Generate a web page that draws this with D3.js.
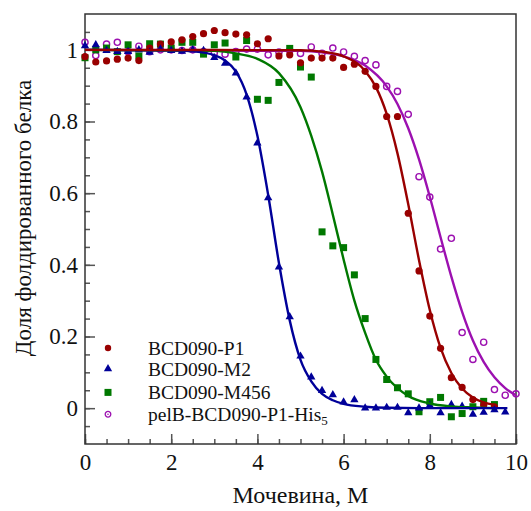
<!DOCTYPE html>
<html>
<head>
<meta charset="utf-8">
<script src="https://cdn.jsdelivr.net/npm/d3@7"></script>
<style>
  body { margin: 0; background: #fff; }
  svg { display: block; font-family: "Liberation Serif", "Times New Roman", serif; }
</style>
</head>
<body>
<svg id="chart"></svg>
<script>
// urea concentrations (M), shared by all measured series
var ureaX = [0,0.25,0.5,0.75,1,1.25,1.5,1.75,2,2.25,2.5,2.75,3,3.25,3.5,3.75,4,4.25,4.5,4.75,
  5,5.25,5.5,5.75,6,6.25,6.5,6.75,7,7.25,7.5,7.75,8,8.25,8.5,8.75,9,9.25,9.5,9.75,10];

var p1Vals = [0.981,0.966,0.969,0.974,0.977,0.97,1.005,1.016,1.022,1.028,1.037,1.045,1.054,1.048,1.044,1.042,1.017,1.031,0.983,0.986,
  0.964,0.977,0.977,0.977,0.951,0.96,0.94,0.898,0.814,0.814,0.544,0.383,0.257,0.167,0.085,0.058,0.024,0.008,0.004];
var m2Vals = [1.011,1.014,0.998,0.995,0.995,1.0,0.993,1.002,0.998,0.996,1.0,0.998,0.978,0.962,0.935,0.868,0.74,0.587,0.394,0.255,
  0.145,0.087,0.049,0.037,0.017,0.023,0.0,0.0,0.002,0.002,-0.013,0.0,0.008,-0.013,0.01,0.005,-0.017,-0.012,-0.005,-0.011];
var m456Vals = [0.978,1.0,1.005,0.995,1.014,0.983,1.017,1.016,1.005,1.021,1.021,0.988,1.014,1.019,0.98,1.026,0.862,0.859,0.909,1.004,
  0.952,0.924,0.492,0.453,0.448,0.372,0.25,0.136,0.08,0.057,0.04,-0.01,0.018,0.03,-0.024,-0.015,0.004,0.019,0.01];
var pelbVals = [1.021,0.984,1.016,1.021,0.995,1.01,0.995,1.0,1.0,0.998,1.0,0.995,0.991,0.988,0.995,1.002,1.002,0.986,0.994,0.998,
  0.99,1.008,0.99,1.005,0.994,0.982,0.97,0.958,0.898,0.884,0.82,0.646,0.589,0.444,0.474,0.211,0.136,0.184,0.052,0.036,0.04];

// fitted curves
var p1FitX = [0,5,5.5,6,6.5,6.75,7,7.25,7.5,7.75,8,8.25,8.5,8.75,9,9.25,9.5];
var p1FitY = [1,0.999,0.995,0.982,0.941,0.896,0.821,0.711,0.569,0.413,0.274,0.168,0.098,0.055,0.03,0.016,0.009];
var m2FitX = [0,2,2.5,3,3.25,3.5,3.75,4,4.25,4.5,4.75,5,5.25,5.5,5.75,6,6.5,7,8,9,9.8];
var m2FitY = [1,0.999,0.996,0.985,0.97,0.94,0.875,0.76,0.595,0.405,0.245,0.135,0.075,0.04,0.022,0.012,0.004,0.001,0,0,0];
var m456FitX = [0,3,3.5,4,4.5,5,5.25,5.5,5.75,6,6.25,6.5,6.75,7,7.5,8,8.5,9,9.5];
var m456FitY = [1,0.997,0.99,0.975,0.935,0.84,0.76,0.66,0.54,0.415,0.3,0.21,0.135,0.088,0.034,0.013,0.005,0.002,0];
var pelbFitX = [0,5,5.5,6,6.5,7,7.25,7.5,7.75,8,8.25,8.5,8.75,9,9.25,9.5,9.75,10];
var pelbFitY = [1,0.997,0.993,0.982,0.956,0.898,0.849,0.781,0.694,0.59,0.477,0.367,0.269,0.189,0.129,0.086,0.056,0.036];

var xTicks = [0,2,4,6,8,10];
var yTicks = [0,0.2,0.4,0.6,0.8,1];
var yTickLabels = ["0","0.2","0.4","0.6","0.8","1"];
var seriesNames = ["BCD090-P1","BCD090-M2","BCD090-M456","pelB-BCD090-P1-His"];

var W = 531, H = 511;
var margin = {top: 14, right: 15, bottom: 67, left: 85};
var width = W - margin.left - margin.right;
var height = H - margin.top - margin.bottom;

var x = d3.scaleLinear().domain([0, 10]).range([0, width]);
var y = d3.scaleLinear().domain([-0.1, 1.1]).range([height, 0]);

var svg = d3.select("#chart").attr("width", W).attr("height", H);
var chart = svg.append("g")
  .attr("transform", "translate(" + margin.left + "," + margin.top + ")");

var axisColor = "#333";

// minor ticks
chart.append("g")
  .attr("transform", "translate(0," + height + ")")
  .call(d3.axisBottom(x).tickValues(d3.range(0, 10.01, 0.5)).tickSize(-5).tickFormat(""))
  .call(function(g) { g.select(".domain").remove(); });
chart.append("g")
  .call(d3.axisLeft(y).tickValues(d3.range(-0.05, 1.1, 0.05)).tickSize(-5).tickFormat(""))
  .call(function(g) { g.select(".domain").remove(); });

// major ticks + labels
var xAxis = chart.append("g")
  .attr("transform", "translate(0," + height + ")")
  .call(d3.axisBottom(x).tickValues(xTicks).tickSize(-10).tickPadding(10).tickFormat(d3.format("d")));
xAxis.selectAll("text").style("font-size", "23px").attr("dy", "0.71em");

var yAxis = chart.append("g")
  .call(d3.axisLeft(y).tickValues(yTicks).tickSize(-10).tickPadding(7)
    .tickFormat(function(d, i) { return yTickLabels[i]; }));
yAxis.selectAll("text").style("font-size", "23px");

chart.selectAll(".tick line").attr("stroke", "#555").attr("stroke-width", 1.5);
chart.selectAll(".tick text").attr("fill", "#111").style("font-family", "Liberation Serif");
chart.selectAll(".domain").remove();

// frame
chart.append("rect")
  .attr("width", width).attr("height", height)
  .attr("fill", "none").attr("stroke", axisColor).attr("stroke-width", 1.5);

var series = [
  {vals: p1Vals, fx: p1FitX, fy: p1FitY, color: "#990000", shape: "circle"},
  {vals: m2Vals, fx: m2FitX, fy: m2FitY, color: "#000099", shape: "triangle"},
  {vals: m456Vals, fx: m456FitX, fy: m456FitY, color: "#007800", shape: "square"},
  {vals: pelbVals, fx: pelbFitX, fy: pelbFitY, color: "#9c10b0", shape: "open"}
];

function marker(g, shape, color) {
  if (shape === "circle") {
    g.append("circle").attr("r", 3.6).attr("fill", color);
  } else if (shape === "triangle") {
    g.append("path").attr("d", d3.symbol(d3.symbolTriangle, 30)()).attr("fill", color);
  } else if (shape === "square") {
    g.append("rect").attr("x", -3.5).attr("y", -3.5).attr("width", 7).attr("height", 7).attr("fill", color);
  } else {
    g.append("circle").attr("r", 3.1).attr("fill", "none").attr("stroke", color).attr("stroke-width", 1.4);
  }
}

// points
var pts = chart.append("g");
[3, 2, 0, 1].forEach(function(si) {
  var s = series[si];
  s.vals.forEach(function(v, i) {
    var g = pts.append("g").attr("transform", "translate(" + x(ureaX[i]) + "," + y(v) + ")");
    marker(g, s.shape, s.color);
  });
});

// fitted lines
var line = d3.line().curve(d3.curveMonotoneX);
[3, 2, 1, 0].forEach(function(si) {
  var s = series[si];
  chart.append("path")
    .attr("d", line(s.fx.map(function(d, i) { return [x(d), y(s.fy[i])]; })))
    .attr("fill", "none")
    .attr("stroke", s.color)
    .attr("stroke-width", 2.4);
});

// legend
var legend = chart.append("g").attr("transform", "translate(0,0)");
var legendY = [0.168, 0.11, 0.044, -0.017];
series.forEach(function(s, i) {
  var ly = y(legendY[i]);
  var g = legend.append("g").attr("transform", "translate(" + 23 + "," + ly + ")");
  if (s.shape === "open") {
    g.append("circle").attr("r", 2.8).attr("fill", "none").attr("stroke", s.color).attr("stroke-width", 1.3);
    g.append("circle").attr("r", 0.8).attr("fill", s.color);
  } else if (s.shape === "circle") {
    g.append("circle").attr("r", 3.2).attr("fill", s.color);
  } else {
    marker(g, s.shape, s.color);
  }
  var t = legend.append("text")
    .attr("x", 63).attr("y", ly).attr("dy", "0.35em")
    .style("font-size", "19.5px").attr("fill", "#111")
    .text(seriesNames[i]);
  if (i === 3) {
    t.append("tspan").attr("dy", "0.3em").style("font-size", "13px").text("5");
  }
});

// axis titles
svg.append("text")
  .attr("x", margin.left + width / 2).attr("y", 503)
  .attr("text-anchor", "middle").style("font-size", "24px").attr("fill", "#111")
  .text("Мочевина, М");
svg.append("text")
  .attr("transform", "translate(31," + 218 + ") rotate(-90)")
  .attr("text-anchor", "middle").style("font-size", "23px").attr("fill", "#111")
  .text("Доля фолдированного белка");
</script>
</body>
</html>
